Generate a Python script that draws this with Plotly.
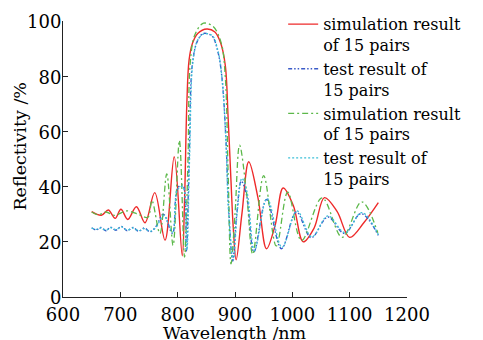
import plotly.graph_objects as go

# ---------------- data ----------------
wl_sim = [650, 667, 679, 691, 701, 713, 728, 743, 760, 778, 794, 808, 812, 816, 820, 826,
          835, 851, 865, 875, 883, 888, 893, 897, 902, 912, 924, 940, 955, 970, 984, 1002,
          1019, 1038, 1056, 1078, 1100, 1125, 1150]
r_sim = [30.9, 29.6, 31.5, 28.5, 31.8, 28.1, 32.7, 26.9, 37.8, 20.6, 50.8, 14.9, 35, 70, 86, 92,
         95.5, 97.1, 96, 92, 84, 65, 42, 25, 13.5, 30, 49, 36, 17.5, 26, 39.5, 33,
         20, 25, 36, 31, 21.6, 27, 34.2]

wl_test = [650, 658, 666, 675, 683, 692, 702, 712, 722, 732, 742, 752, 762, 775, 791, 800,
           809, 815, 820, 826, 835, 845, 860, 870, 877, 884, 889, 896, 903, 911, 920, 933,
           955, 981, 1007, 1033, 1062, 1091, 1120, 1150]
r_test = [25.1, 24.3, 25.2, 24.0, 25.3, 24.2, 25.6, 24.0, 25.2, 23.8, 25.0, 23.6, 25.5, 30.0, 23.0, 39.5,
          40.5, 16.5, 50, 85, 93, 95.5, 94.5, 89, 80, 58, 32, 13, 30, 42, 37, 16.3,
          35.3, 17.5, 30.8, 21.5, 29, 23, 30.2, 22.3]

wl_sim2 = [650, 662, 675, 690, 712, 733, 748, 755, 769, 781, 792, 803, 812, 818, 822, 830,
           845, 862, 876, 883, 888, 893, 900, 908, 920, 931, 950, 972, 992, 1016, 1052,
           1087, 1121, 1149]
r_sim2 = [30.8, 29.8, 30.8, 29.6, 31.2, 29.8, 28.9, 35, 23, 44.6, 18.7, 56.7, 14.5, 50, 85, 95,
          99.2, 98, 92, 80, 45, 12, 30, 55, 38, 15.5, 44, 18.5, 38, 20.5, 35.9,
          21.6, 34.5, 23.3]

wl_test2 = [650, 658, 666, 675, 683, 692, 702, 712, 722, 732, 742, 752, 762, 776, 791, 800,
            809, 816, 821, 827, 836, 846, 860, 870, 877, 884, 889, 897, 904, 912, 921, 934,
            956, 982, 1008, 1034, 1062, 1092, 1121, 1150]
r_test2 = [25.0, 24.5, 25.0, 24.2, 25.1, 24.4, 25.4, 24.2, 25.0, 24.0, 24.8, 23.8, 25.2, 29.5, 23.5, 39.0,
           40.0, 17.0, 52, 86, 93.5, 95.3, 94.8, 89.5, 80, 57, 30, 13.5, 31, 43, 38, 16.8,
           35.8, 18.0, 31.2, 21.8, 29.4, 23.3, 30.6, 22.6]

names = ["simulation result<br>of 15 pairs", "test result of<br>15 pairs",
         "simulation result<br>of 15 pairs", "test result of<br>15 pairs"]
x_ticks = [600, 700, 800, 900, 1000, 1100, 1200]
y_ticks = [0, 20, 40, 60, 80, 100]
x_title = "Wavelength /nm"
y_title = "Reflectivity /%"

FONT = "DejaVu Serif"

fig = go.Figure()
fig.add_trace(go.Scatter(x=wl_sim, y=r_sim, name=names[0], mode="lines",
                         line=dict(color="#ee2a2a", width=1.4, shape="spline", smoothing=1.0)))
fig.add_trace(go.Scatter(x=wl_test, y=r_test, name=names[1], mode="lines",
                         line=dict(color="#3a5bc8", width=1.4, shape="spline", smoothing=1.0,
                                   dash="4px,2px,1.5px,2px,1.5px,2px")))
fig.add_trace(go.Scatter(x=wl_sim2, y=r_sim2, name=names[2], mode="lines",
                         line=dict(color="#5cb84a", width=1.3, shape="spline", smoothing=1.0,
                                   dash="6px,3px,2px,3px")))
fig.add_trace(go.Scatter(x=wl_test2, y=r_test2, name=names[3], mode="lines",
                         line=dict(color="#3cc0d8", width=1.3, shape="spline", smoothing=1.0,
                                   dash="2px,2px")))

# the page body has an 8px margin, so the figure is 475x332 and offset by 8px
fig.update_layout(
    width=475, height=332,
    margin=dict(l=55, r=76, t=13, b=43, autoexpand=False),
    paper_bgcolor="white", plot_bgcolor="white",
    font=dict(family=FONT, size=18, color="#000"),
    legend=dict(x=0.64, y=1.05, xanchor="left", yanchor="top", valign="top",
                bgcolor="rgba(0,0,0,0)", font=dict(family=FONT, size=16, color="#000"),
                tracegroupgap=0, itemwidth=30, maxheight=320),
    showlegend=True,
    annotations=[
        dict(text=x_title, xref="paper", yref="paper", x=0.5, y=-0.13,
             xanchor="center", yanchor="middle", showarrow=False,
             font=dict(family=FONT, size=17.5, color="#000")),
        dict(text=y_title, xref="paper", yref="paper", x=-0.125, y=0.545,
             xanchor="center", yanchor="middle", showarrow=False, textangle=-90,
             font=dict(family=FONT, size=17.5, color="#000")),
    ],
)
fig.update_xaxes(range=[600, 1200], tickvals=x_ticks, ticks="inside", ticklen=5,
                 showline=True, linecolor="#222", linewidth=1, showgrid=False, zeroline=False,
                 tickcolor="#222", tickfont=dict(size=18), ticklabelstandoff=1)
fig.update_yaxes(range=[0, 100], tickvals=y_ticks, ticks="inside", ticklen=5,
                 showline=True, linecolor="#222", linewidth=1, showgrid=False, zeroline=False,
                 tickcolor="#222", tickfont=dict(size=18), ticklabelstandoff=-3,
                 ticklabelshift=1)

fig.write_html("out.html")
